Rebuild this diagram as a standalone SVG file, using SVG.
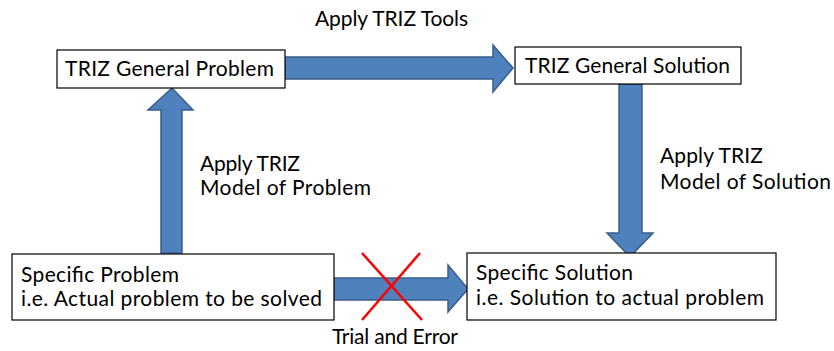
<svg xmlns="http://www.w3.org/2000/svg" width="834" height="351" viewBox="0 0 834 351">
<style>
.box{fill:#fff;stroke:#000;stroke-width:1.2}
.arr{fill:#4F81BD;stroke:#385D8A;stroke-width:1.5;stroke-linejoin:miter}
.t{font-family:Lato,"Liberation Sans",Arial,sans-serif;font-size:21px;fill:#000}
.x{stroke:#FF0000;stroke-width:2.5}
</style>
<rect width="834" height="351" fill="#fff"/>
<g id="connectors">
<polygon class="arr" points="285,57 493,57 493,45 513,68 493,92 493,79 285,79"/>
<polygon class="arr" points="161,253 161,110 148,110 172,88 193,110 182,110 182,253"/>
<polygon class="arr" points="619,84 642,84 642,233 653,233 630,257 607,233 619,233"/>
<polygon class="arr" points="334,278 448,278 448,265 468,289 448,312 448,300 334,300"/>
<line class="x" x1="362" y1="253" x2="422" y2="320"/>
<line class="x" x1="420" y1="253" x2="362" y2="320"/>
<text class="t" x="315" y="26" textLength="153">Apply TRIZ Tools</text>
<text class="t" x="200" y="171" textLength="100">Apply TRIZ</text>
<text class="t" x="200" y="195" textLength="171">Model of Problem</text>
<text class="t" x="660" y="163" textLength="103">Apply TRIZ</text>
<text class="t" x="660" y="189" textLength="171">Model of Solution</text>
<text class="t" x="332" y="344" textLength="126">Trial and Error</text>
</g>
<g id="n1">
<rect class="box" x="57" y="50" width="228" height="38"/>
<text class="t" x="65" y="76" textLength="209">TRIZ General Problem</text>
</g>
<g id="n2">
<rect class="box" x="515" y="47" width="226" height="37"/>
<text class="t" x="525" y="73" textLength="205">TRIZ General Solution</text>
</g>
<g id="n3">
<rect class="box" x="12" y="254" width="322" height="66"/>
<text class="t" x="21" y="282" textLength="158">Specific Problem</text>
<text class="t" x="21" y="306" textLength="301">i.e. Actual problem to be solved</text>
</g>
<g id="n4">
<rect class="box" x="467" y="253" width="309" height="67"/>
<text class="t" x="476" y="280" textLength="157">Specific Solution</text>
<text class="t" x="476" y="305" textLength="288">i.e. Solution to actual problem</text>
</g>
</svg>
